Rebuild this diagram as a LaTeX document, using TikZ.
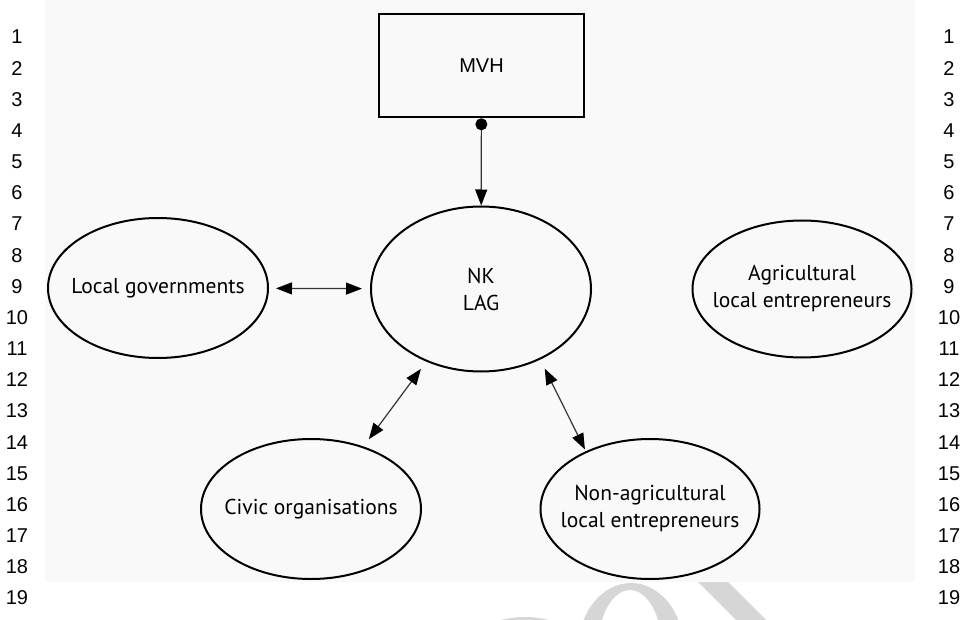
\documentclass[tikz,border=0pt]{standalone}
\usepackage{fontspec}
\usetikzlibrary{arrows.meta,shapes.geometric}
\newfontfamily\labelfont{PT Sans}
\newfontfamily\numfont{Liberation Sans}
\definecolor{wmark}{HTML}{D6D6D6}
\definecolor{pagetint}{HTML}{F9F9F9}

\begin{document}
\begin{tikzpicture}[x=1pt,y=-1pt,
  bubble/.style={ellipse, draw, line width=2pt, inner sep=0pt},
  box/.style={rectangle, draw, line width=2.6pt, minimum width=205pt,
    minimum height=103pt, font=\numfont\fontsize{20}{24}\selectfont},
  caption/.style={font=\labelfont\fontsize{21.5}{27}\selectfont, align=center, inner sep=0pt},
  lineno/.style={font=\numfont\fontsize{20}{22}\selectfont, inner sep=0pt},
  link/.style={line width=1.2pt, draw=black!80},
  >={Triangle[length=16pt,width=12pt,color=black]},
]
\useasboundingbox (0,0) rectangle (963,620);
\fill[white] (0,0) rectangle (963,620);

% grey watermark shapes at the foot of the page
\begin{scope}
  \clip (0,0) rectangle (963,620);
  \fill[wmark] (525,714) circle (97);
  \fill[wmark, even odd rule] (631,650) ellipse [x radius=53, y radius=67]
                              (630,648) ellipse [x radius=32, y radius=58];
  \fill[wmark] (698,582) -- (728,582) -- (766,620) -- (736,620) -- cycle;
\end{scope}

% tinted page area
\fill[pagetint] (45,0) rectangle (915,582);

% margin line numbers
\foreach \k in {1,...,19}{
  \node[lineno] (ln\k) at (17, {37+(\k-1)*31.17}) {\k};
  \node[lineno] (rn\k) at (949, {37+(\k-1)*31.17}) {\k};
}

% boxes and bubbles
\node[box] (mvh) at (481.5,65.5) {MVH};
\node[bubble, minimum width=220pt, minimum height=165pt] (nk)  at (481,289) {};
\node[bubble, minimum width=220pt, minimum height=140pt] (lg)  at (158,288) {};
\node[bubble, minimum width=219pt, minimum height=137pt] (agr) at (802,289) {};
\node[bubble, minimum width=220pt, minimum height=140pt] (civ) at (311,509) {};
\node[bubble, minimum width=219pt, minimum height=140pt] (na)  at (650,509) {};

\node[caption] (nk-t)  at (nk)  {NK\\LAG};
\node[caption] (lg-t)  at (lg)  {Local governments};
\node[caption] (agr-t) at (agr) {Agricultural\\local entrepreneurs};
\node[caption] (civ-t) at (civ) {Civic organisations};
\node[caption] (na-t)  at (na)  {Non-agricultural\\local entrepreneurs};

% relations
\draw[link, {Circle[length=12pt,color=black]}->] (mvh) -- (nk);
\draw[link, <->, shorten <=7pt, shorten >=8pt] (lg) -- (nk);
\draw[link, <->, shorten <=9pt, shorten >=9pt] (nk.233) -- (civ.50);
\draw[link, <->, shorten <=10pt, shorten >=2pt] (nk.310) -- (na.138);
\end{tikzpicture}
\end{document}
